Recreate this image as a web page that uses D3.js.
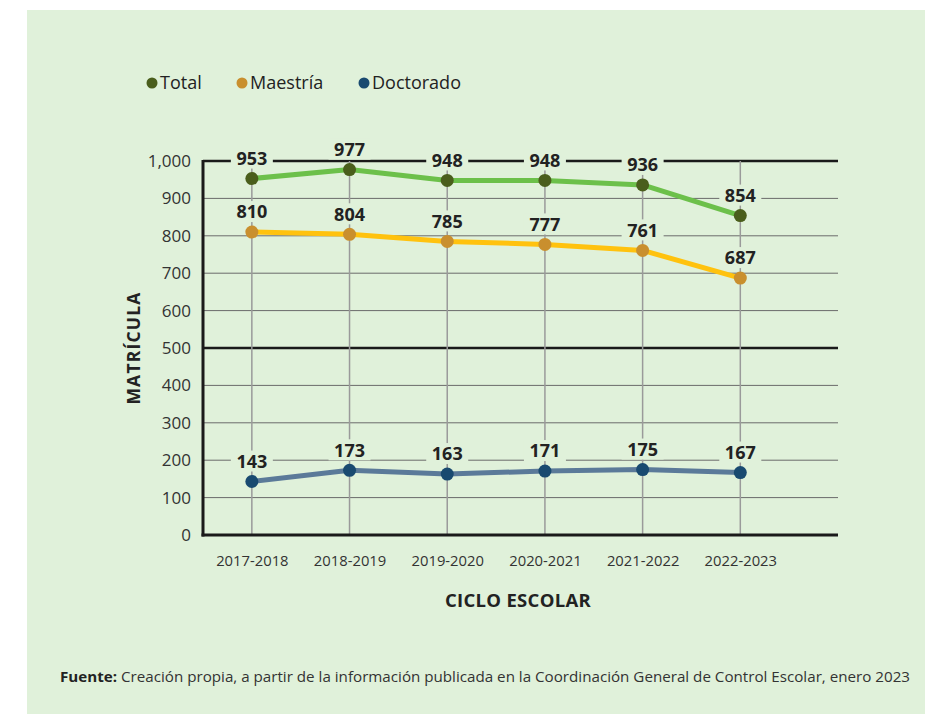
<!DOCTYPE html>
<html>
<head>
<meta charset="utf-8">
<script src="https://cdn.jsdelivr.net/npm/d3@7/dist/d3.min.js"></script>
<style>
html,body{margin:0;padding:0;background:#fff;}
svg{display:block;}
text{font-family:"Open Sans","Lato",sans-serif;}
</style>
</head>
<body>
<svg id="chart" width="925" height="714"></svg>
<script>
const categories = ["2017-2018","2018-2019","2019-2020","2020-2021","2021-2022","2022-2023"];
const totalValues = [953, 977, 948, 948, 936, 854];
const maestriaValues = [810, 804, 785, 777, 761, 687];
const doctoradoValues = [143, 173, 163, 171, 175, 167];
const yTicks = [0,100,200,300,400,500,600,700,800,900,1000];
const seriesNames = ["Total","Maestría","Doctorado"];

const series = [
  {name: seriesNames[0], values: totalValues, line: "#6cc04a", dot: "#4a5e1c"},
  {name: seriesNames[1], values: maestriaValues, line: "#ffc20e", dot: "#c98f2e"},
  {name: seriesNames[2], values: doctoradoValues, line: "#5b7a99", dot: "#194a70"}
];

const bg = "#e0f1da";
const svg = d3.select("#chart");
svg.append("rect").attr("x",27).attr("y",10).attr("width",898).attr("height",704).attr("fill",bg);

const pLeft = 203, pRight = 838, pTop = 161, pBottom = 535;
const x = d3.scaleLinear().domain([-0.5, categories.length]).range([pLeft, pRight]);
const y = d3.scaleLinear().domain([0, 1000]).range([pBottom, pTop]);

// horizontal gridlines
svg.append("g").selectAll("line").data(yTicks.filter(t => t>0)).join("line")
  .attr("x1", pLeft).attr("x2", pRight)
  .attr("y1", d => y(d)).attr("y2", d => y(d))
  .attr("stroke", d => (d===500||d===1000) ? "#1a1a1a" : "#6b6b6b")
  .attr("stroke-width", d => (d===500||d===1000) ? 2.5 : 1);

// vertical gridlines
svg.append("g").selectAll("line").data(categories).join("line")
  .attr("x1", (d,i) => x(i)).attr("x2", (d,i) => x(i))
  .attr("y1", pBottom).attr("y2", pTop)
  .attr("stroke", "#9a9a9a").attr("stroke-width", 1.5);

// y axis
const yAxis = d3.axisLeft(y).tickValues(yTicks).tickSize(0).tickPadding(12)
  .tickFormat(d3.format(","));
const gy = svg.append("g").attr("transform", `translate(${pLeft},0)`).call(yAxis);
gy.select(".domain").remove();
gy.selectAll("text").attr("font-size", 17).attr("fill", "#333").attr("font-family","'Open Sans',sans-serif");

// x axis
const xAxis = d3.axisBottom(x).tickValues(d3.range(categories.length)).tickSize(0).tickPadding(20)
  .tickFormat(i => categories[i]);
const gx = svg.append("g").attr("transform", `translate(0,${pBottom})`).call(xAxis);
gx.select(".domain").remove();
gx.selectAll("text").attr("font-size", 14.8).attr("fill", "#333").attr("font-family","'Open Sans',sans-serif");

// axis frame lines
svg.append("line").attr("x1", pLeft).attr("x2", pLeft).attr("y1", pTop-1).attr("y2", pBottom+1.5)
  .attr("stroke", "#1a1a1a").attr("stroke-width", 3);
svg.append("line").attr("x1", pLeft-1.5).attr("x2", pRight).attr("y1", pBottom).attr("y2", pBottom)
  .attr("stroke", "#1a1a1a").attr("stroke-width", 3);

// lines
const lineGen = d3.line().x((d,i) => x(i)).y(d => y(d));
series.forEach(s => {
  svg.append("path").datum(s.values).attr("d", lineGen)
    .attr("fill","none").attr("stroke", s.line).attr("stroke-width", 5)
    .attr("stroke-linejoin","round");
});

// points
series.forEach(s => {
  svg.append("g").selectAll("circle").data(s.values).join("circle")
    .attr("cx", (d,i) => x(i)).attr("cy", d => y(d)).attr("r", 6.5)
    .attr("fill", s.dot);
});

// labels with background
series.forEach(s => {
  const g = svg.append("g").selectAll("g").data(s.values).join("g")
    .attr("transform", (d,i) => `translate(${x(i)},${y(d) - 20})`);
  g.append("rect").attr("x", -21).attr("y", -11).attr("width", 42).attr("height", 21).attr("fill", bg);
  g.append("text").text(d => d).attr("text-anchor","middle").attr("dy","0.35em")
    .attr("font-size", 18).attr("font-weight", 700).attr("fill", "#222");
});

// axis titles
svg.append("text").attr("transform", `translate(140,${y(500)}) rotate(-90)`)
  .attr("text-anchor","middle").attr("font-size", 17.5).attr("font-weight", 700).attr("fill","#222")
  .attr("letter-spacing", 1.2).text("MATRÍCULA");
svg.append("text").attr("x", 518).attr("y", 607).attr("text-anchor","middle")
  .attr("font-size", 18.5).attr("font-weight", 700).attr("fill","#222").attr("letter-spacing", 0.3).text("CICLO ESCOLAR");

// legend
const legendX = [152, 242, 364];
const lg = svg.append("g").selectAll("g").data(series).join("g")
  .attr("transform", (d,i) => `translate(${legendX[i]},83)`);
lg.append("circle").attr("r", 5.5).attr("fill", d => d.dot);
lg.append("text").attr("x", 8).attr("dy","0.35em").attr("font-size", 18).attr("fill","#222").text(d => d.name);

// footer
const ft = svg.append("text").attr("x", 60).attr("y", 682).attr("font-size", 14.5).attr("fill","#333")
  .attr("textLength", 850).attr("lengthAdjust","spacingAndGlyphs");
ft.append("tspan").attr("font-weight",700).attr("fill","#222").text("Fuente:");
ft.append("tspan").text(" Creación propia, a partir de la información publicada en la Coordinación General de Control Escolar, enero 2023");
</script>
</body>
</html>
